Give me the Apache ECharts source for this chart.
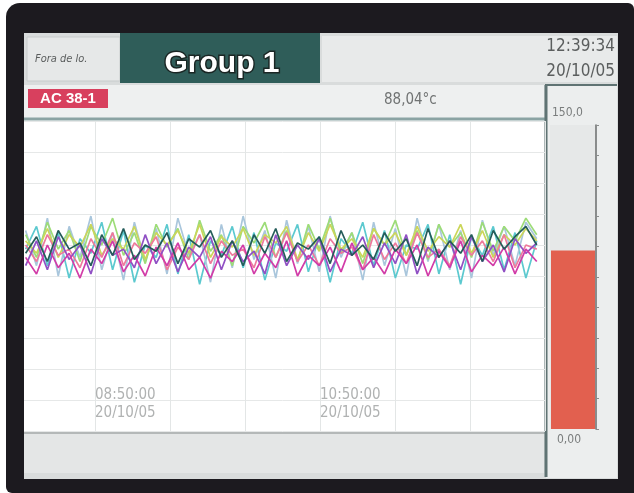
<!DOCTYPE html>
<html><head><meta charset="utf-8">
<script src="https://cdn.jsdelivr.net/npm/echarts@6/dist/echarts.min.js"></script>
<style>html,body{margin:0;padding:0;background:#fff}#c{width:634px;height:493px}</style>
</head><body><div id="c"></div>
<script>
// ---- data (values in °C, time in minutes relative to 08:50:00) ----
const sampleStart = -37, sampleStep = 5.8;
const cyan      = [88,99,80,96,74,93,86,101,78,97,72,90,84,100,76,95,71,92,85,99,79,96,73,91,87,100,77,94,72,93,86,101,80,97,74,90,88,100,76,95,71,94,85,99,78,96,74,92];
const lightBlue = [97,80,103,75,99,84,104,78,96,73,101,82,98,76,103,85,95,72,100,79,104,83,97,74,102,81,99,77,104,84,96,73,101,80,98,75,103,82,100,78,97,74,102,85,99,80,101,93];
const green     = [95,84,101,88,97,82,99,90,103,85,96,81,100,89,98,83,102,87,95,80,99,91,101,84,97,82,100,88,103,86,96,81,98,90,102,85,97,83,100,89,96,84,101,87,99,92,103,95];
const yellow    = [92,86,98,84,95,89,100,85,93,88,99,83,96,90,97,86,100,84,94,89,98,85,95,91,99,83,96,87,100,88,93,84,98,90,96,85,99,87,94,89,100,86,97,84,95,90,98,92];
const pink      = [90,82,95,85,88,79,93,84,96,80,91,86,94,78,89,83,95,81,92,85,88,79,94,84,96,82,90,80,93,86,89,78,95,83,91,81,96,84,88,80,94,85,92,82,95,79,90,88];
const purple    = [80,92,78,94,83,90,76,93,85,88,79,95,81,91,77,89,84,94,78,92,82,87,76,95,80,90,83,93,77,88,85,94,79,91,81,95,76,89,84,92,78,94,82,90,77,93,86,91];
const magenta   = [84,76,90,79,86,74,88,81,92,77,85,75,89,80,91,78,84,74,87,82,90,76,86,79,92,75,85,80,89,77,91,78,84,76,88,81,90,75,87,79,92,77,85,80,89,76,88,82];
const darkTeal  = [86,94,82,97,88,91,80,95,85,98,83,90,87,96,81,93,89,97,84,92,80,95,86,98,82,91,88,94,81,97,85,90,83,96,87,93,80,98,84,92,86,95,82,97,88,94,99,90];
const seriesNames  = ['CH1','CH2','CH3','CH4','CH5','CH6','CH7','CH8'];
const seriesColors = ['#5cc9cf','#a9c6dc','#9ddc78','#cbd65a','#ee7a9c','#9050c4','#d23ca8','#245c5a'];
const seriesValues = [cyan, lightBlue, green, yellow, pink, purple, magenta, darkTeal];
const timeLabels = {0:'08:50:00\n20/10/05', 120:'10:50:00\n20/10/05'};
const barCategory = ['AC 38-1'];
const barValue = [88.04];
const scaleLabels = ['150,0','0,00'];

const narrow = "'Liberation Sans Narrow','DejaVu Sans Condensed','Liberation Sans',sans-serif";
const times = cyan.map((_, i) => +(sampleStart + i * sampleStep).toFixed(2));

const lineSeries = seriesValues.map((vals, k) => ({
  name: seriesNames[k], type: 'line', xAxisIndex: 0, yAxisIndex: 0,
  data: vals.map((v, i) => [times[i], v]),
  symbol: 'none', lineStyle: {width: 1.7, color: seriesColors[k]}, z: 3 + k
}));

const chart = echarts.init(document.getElementById('c'), null, {renderer: 'canvas'});
chart.setOption({
  animation: false,
  backgroundColor: '#ffffff',
  grid: [
    {left: 20, right: 89, top: 121, bottom: 62},
    {left: 550, right: 38, top: 125, bottom: 64}
  ],
  xAxis: [
    {type: 'value', gridIndex: 0, min: -40, max: 240, interval: 40,
     axisLine: {show: false}, axisTick: {show: false},
     splitLine: {show: true, lineStyle: {color: '#e3e6e6', width: 1}},
     axisLabel: {inside: true, margin: 9, align: 'left', verticalAlign: 'bottom',
       fontFamily: narrow, fontSize: 15, lineHeight: 18, color: '#b0b2b2',
       formatter: v => timeLabels[v] || ''}},
    {type: 'category', gridIndex: 1, data: barCategory, show: false}
  ],
  yAxis: [
    {type: 'value', gridIndex: 0, min: 0, max: 150, interval: 15,
     axisLine: {show: false}, axisTick: {show: false}, axisLabel: {show: false},
     splitLine: {show: true, lineStyle: {color: '#e6e8e8', width: 1}}},
    {type: 'value', gridIndex: 1, min: 0, max: 150, interval: 15, position: 'right',
     axisLine: {show: true, lineStyle: {color: '#6a6d6d', width: 1.5}},
     axisTick: {show: true, length: 3, lineStyle: {color: '#8a8d8d'}},
     axisLabel: {show: false}, splitLine: {show: false}}
  ],
  series: lineSeries.concat([{
    type: 'bar', xAxisIndex: 1, yAxisIndex: 1, data: barValue,
    barWidth: 44, itemStyle: {color: '#e2604f'}, z: 5
  }]),
  graphic: [
    // outer dark frame
    {type: 'rect', z: -20, shape: {x: 6, y: 3, width: 628, height: 490, r: [14, 6, 0, 6]}, style: {fill: '#1c1a1f'}},
    // screen backgrounds
    {type: 'rect', z: -15, shape: {x: 24, y: 33, width: 594, height: 446}, style: {fill: '#d9dcdc'}},
    {type: 'rect', z: -14, shape: {x: 27, y: 37, width: 93, height: 44}, style: {fill: '#e6e8e8', stroke: '#c8cccc', lineWidth: 1}},
    {type: 'text', z: 10, style: {x: 35, y: 59, text: 'Fora de lo.', fontFamily: narrow, fontSize: 11, fontStyle: 'italic', fill: '#5a5d5d', verticalAlign: 'middle'}},
    {type: 'rect', z: -14, shape: {x: 120, y: 33, width: 200, height: 50}, style: {fill: '#2f5d59'}},
    {type: 'text', z: 10, style: {x: 222, y: 64, text: 'Group 1', fontFamily: "'Liberation Sans',Arial,sans-serif", fontWeight: 'bold', fontSize: 30, fill: '#ffffff', stroke: '#1a2624', lineWidth: 3, align: 'center', verticalAlign: 'middle'}},
    {type: 'rect', z: -14, shape: {x: 322, y: 36, width: 295, height: 46}, style: {fill: '#e8eaea'}},
    {type: 'text', z: 10, style: {x: 615, y: 47, text: '12:39:34', fontFamily: narrow, fontSize: 17, fill: '#5b5e5e', align: 'right', verticalAlign: 'middle'}},
    {type: 'text', z: 10, style: {x: 615, y: 72, text: '20/10/05', fontFamily: narrow, fontSize: 17, fill: '#5b5e5e', align: 'right', verticalAlign: 'middle'}},
    // channel strip
    {type: 'rect', z: -14, shape: {x: 24, y: 85, width: 520, height: 34}, style: {fill: '#eef0f0'}},
    {type: 'rect', z: -13, shape: {x: 28, y: 89, width: 80, height: 19}, style: {fill: '#d8405e'}},
    {type: 'text', z: 10, style: {x: 68, y: 99, text: 'AC 38-1', fontFamily: "'Liberation Sans',Arial,sans-serif", fontWeight: 'bold', fontSize: 15, fill: '#ffffff', align: 'center', verticalAlign: 'middle'}},
    {type: 'text', z: 10, style: {x: 384, y: 100, text: '88,04°c', fontFamily: narrow, fontSize: 15, fill: '#707373', verticalAlign: 'middle'}},
    {type: 'line', z: -12, shape: {x1: 24, y1: 119, x2: 545, y2: 119}, style: {stroke: '#8aa3a3', lineWidth: 3}},
    // plot area background
    {type: 'rect', z: -13, shape: {x: 24, y: 120, width: 521, height: 312}, style: {fill: '#ffffff'}},
    // bottom strip
    {type: 'rect', z: -13, shape: {x: 24, y: 433, width: 520, height: 40}, style: {fill: '#e4e6e6'}},
    {type: 'line', z: -12, shape: {x1: 24, y1: 433, x2: 545, y2: 433}, style: {stroke: '#b4b8b8', lineWidth: 2}},
    // right gauge panel
    {type: 'rect', z: -14, shape: {x: 546, y: 86, width: 71, height: 392}, style: {fill: '#eceeee'}},
    {type: 'line', z: -12, shape: {x1: 546, y1: 85, x2: 546, y2: 477}, style: {stroke: '#5f7373', lineWidth: 3}},
    {type: 'line', z: -12, shape: {x1: 545, y1: 85, x2: 617, y2: 85}, style: {stroke: '#5f7373', lineWidth: 2}},
    {type: 'rect', z: -13, shape: {x: 550, y: 125, width: 46, height: 304}, style: {fill: '#e6e8e8'}},
    {type: 'text', z: 10, style: {x: 552, y: 113, text: scaleLabels[0], fontFamily: narrow, fontSize: 12, fill: '#7a7d7d', verticalAlign: 'middle'}},
    {type: 'text', z: 10, style: {x: 557, y: 440, text: scaleLabels[1], fontFamily: narrow, fontSize: 12, fill: '#7a7d7d', verticalAlign: 'middle'}},
    // left frame edge covering the -40 gridline
    {type: 'rect', z: 100, shape: {x: 8, y: 30, width: 16, height: 455}, style: {fill: '#1c1a1f'}}
  ]
});
</script></body></html>
